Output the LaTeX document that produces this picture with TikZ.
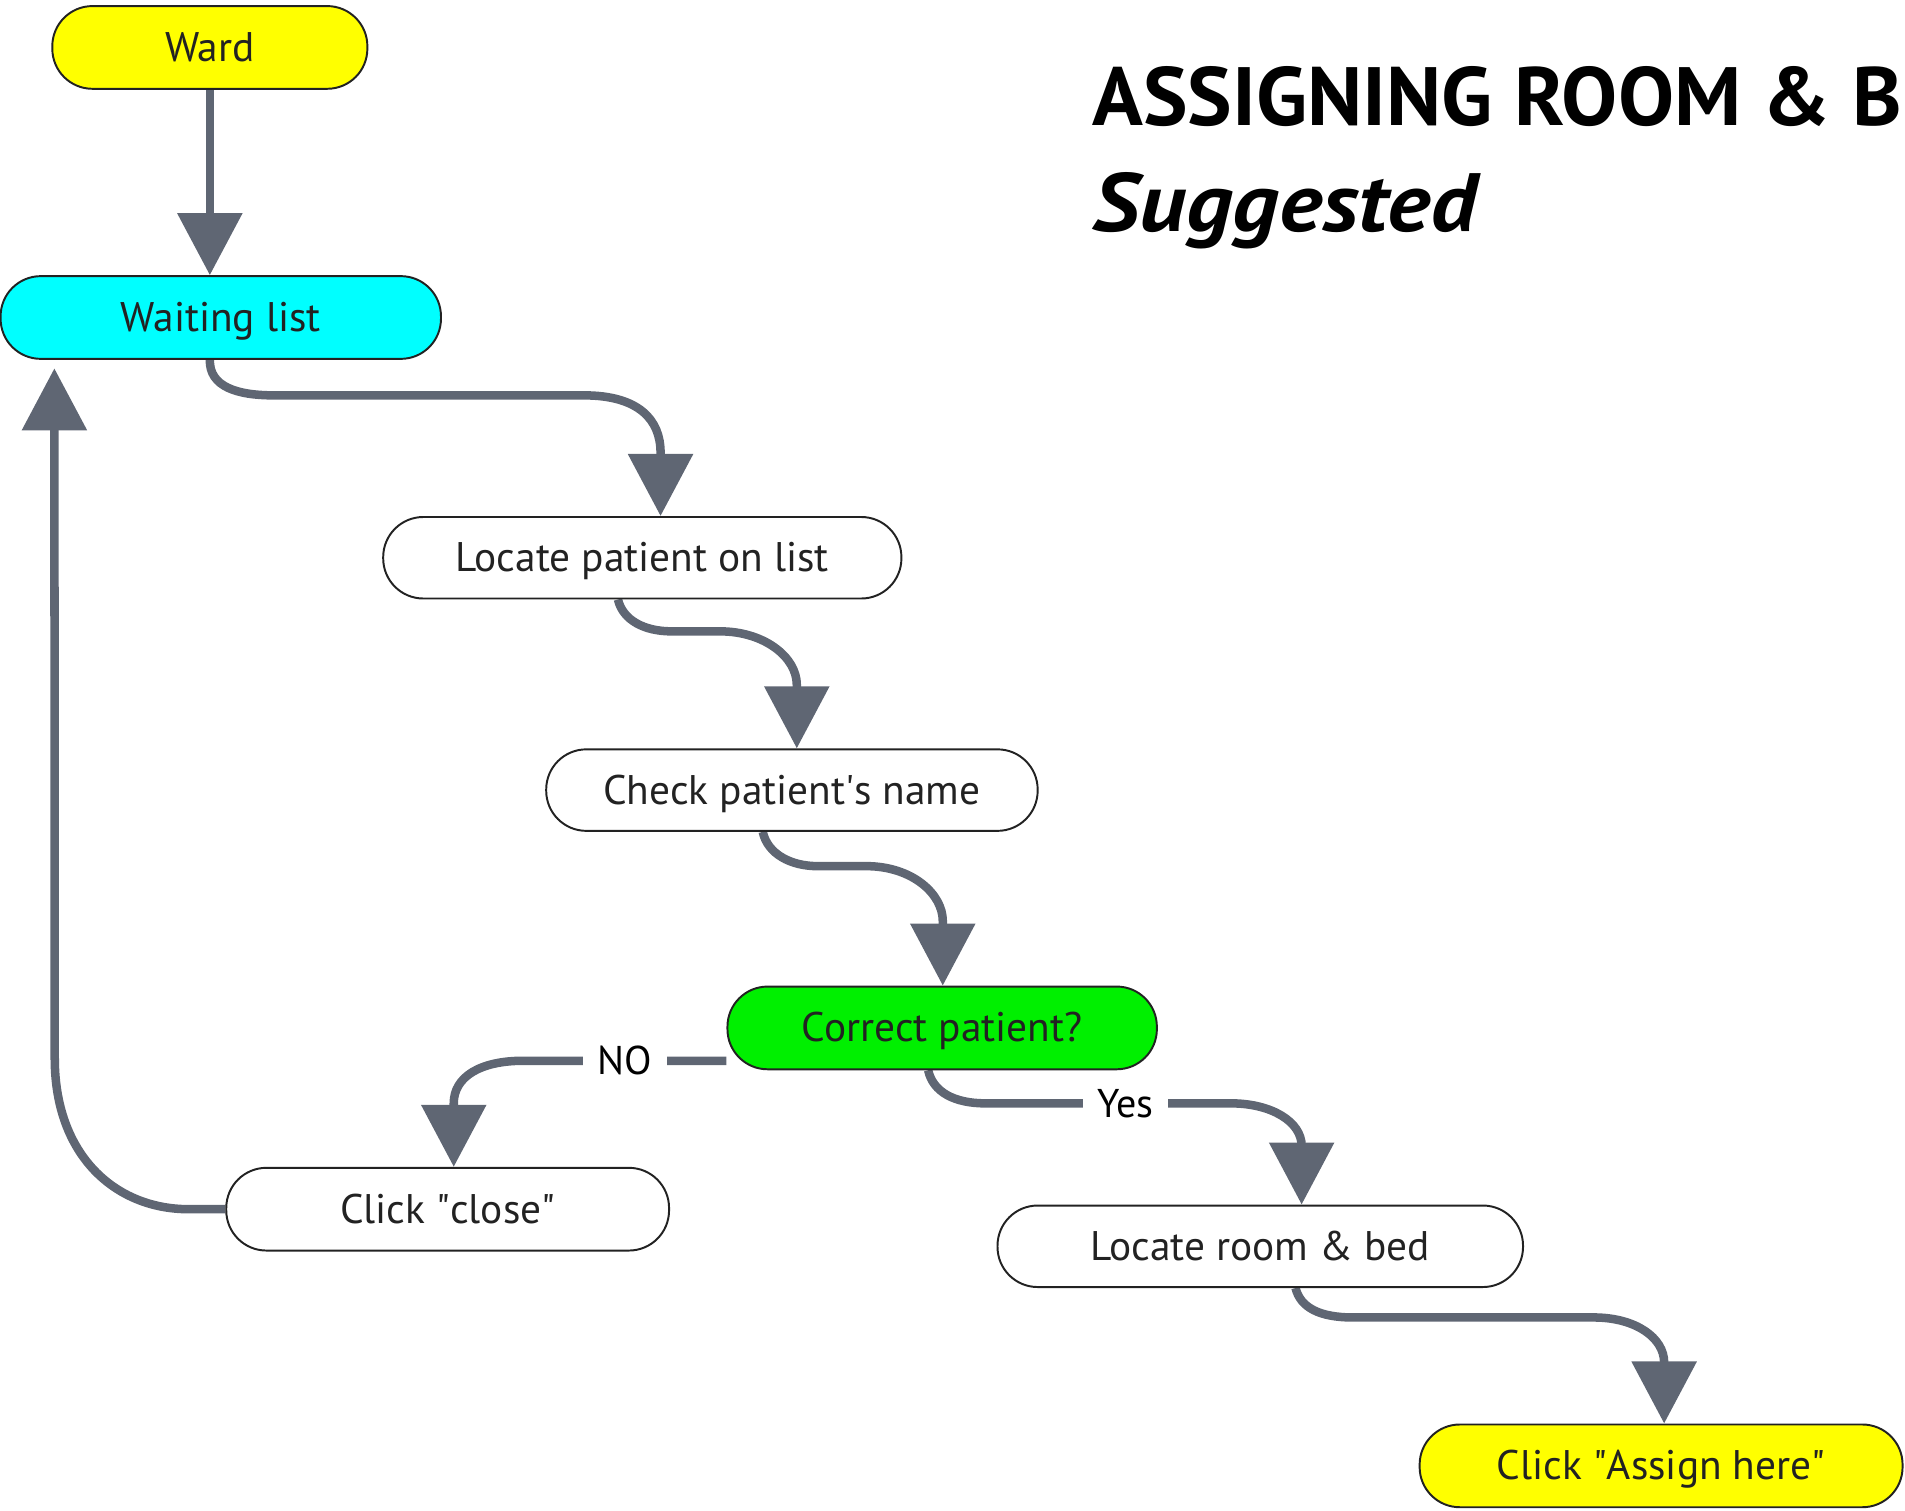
\documentclass[tikz,border=0pt]{standalone}
\usepackage{fontspec}
\setmainfont{PT Sans}
\newfontfamily\ttlfont[FakeStretch=1.015]{PT Sans}
\newfontfamily\subfont[FakeStretch=1.11]{PT Sans}
\usetikzlibrary{arrows.meta,calc}
\pgfdeclarelayer{bg}
\pgfsetlayers{bg,main}
\definecolor{conncol}{HTML}{5F6673}
\definecolor{yel}{HTML}{FFFF00}
\definecolor{cya}{HTML}{00FFFF}
\definecolor{grn}{HTML}{00F000}
\definecolor{ink}{HTML}{222222}
\begin{document}
\begin{tikzpicture}[x=1pt,y=-1pt,
  box/.style={draw=ink, line width=1.6pt, rounded corners=33pt, minimum height=68pt,
    inner sep=0pt, font=\fontsize{34}{40}\selectfont, text=ink, fill=white,
    text height=26pt, text depth=3pt},
  conn/.style={draw=conncol, line width=7pt, -{Triangle[length=51pt,width=52pt]}},
  lbl/.style={fill=white, inner xsep=12pt, inner ysep=4pt, font=\fontsize{33}{38}\selectfont, text=black},
  ttl/.style={anchor=base west, inner sep=0pt, text=black}]
\useasboundingbox (0,0) rectangle (1566,1241.3);

\node[box, fill=yel, minimum width=259pt] (ward) at (172.5,39) {Ward};
\node[box, fill=cya, minimum width=362pt] (wl) at (181.5,261) {Waiting list};
\node[box, minimum width=426pt, minimum height=67pt] (lp) at (528,458.5) {Locate patient on list};
\node[box, minimum width=404pt, minimum height=67pt] (cn) at (651,649.5) {Check patient\textquotesingle s name};
\node[box, fill=grn, minimum width=353pt] (cp) at (774.5,845) {Correct patient?};
\node[box, minimum width=364pt] (cc) at (368,994) {Click \textquotedbl close\textquotedbl};
\node[box, minimum width=432pt, minimum height=67pt] (lr) at (1036,1024.5) {Locate room \& bed};
\node[box, fill=yel, minimum width=397pt] (ca) at (1365.5,1205) {Click \textquotedbl Assign here\textquotedbl};

\node[ttl, font=\fontsize{68}{80}\ttlfont\bfseries] (t1) at (898,103) {ASSIGNING ROOM \& B};
\node[ttl, font=\fontsize{68}{80}\subfont\bfseries\itshape] (t2) at (898,190) {Suggested};

\begin{pgfonlayer}{bg}
\draw[conn] (ward.south) -- (ward.south |- wl.north);
\draw[conn] ($(wl.south)+(-9,0)$) .. controls (172,318) and (195,325) .. (225,325)
  -- (480,325) .. controls (525,325) and (543,345) .. (543,372) -- ($(lp.north)+(15,0)$);
\draw[conn] ($(lp.south)+(-20,0)$) .. controls (512,510) and (530,519) .. (552,519)
  -- (592,519) .. controls (628,519) and (655,540) .. (655,563) -- ($(cn.north)+(4,0)$);
\draw[conn] ($(cn.south)+(-24,0)$) .. controls (631,702) and (650,712) .. (672,712)
  -- (712,712) .. controls (750,712) and (775,735) .. (775,757) -- ($(cp.north)+(0.5,0)$);
\draw[conn] ($(cp.west)+(0,27)$) -- node[lbl]{NO} (430,872)
  .. controls (395,872) and (373,885) .. (373,907) -- ($(cc.north)+(5,0)$);
\draw[conn] ($(cp.south)+(-11.5,0)$) .. controls (767,898) and (785,907) .. (810,907)
  -- node[lbl, pos=0.57]{Yes} (1012,907) .. controls (1045,907) and (1070,922) .. (1070,942)
  -- ($(lr.north)+(34,0)$);
\coordinate (wlin) at ($(wl.south west)+(45,7)$);
\draw[conn] (cc.west) -- (155,994) .. controls (95,994) and (45,950) .. (45,870) -- (wlin);
\draw[conn] ($(lr.south)+(29,0)$) .. controls (1069,1075) and (1085,1083) .. (1112,1083)
  -- (1310,1083) .. controls (1345,1083) and (1368,1100) .. (1368,1120) -- ($(ca.north)+(2.5,0)$);
\end{pgfonlayer}
\end{tikzpicture}
\end{document}
